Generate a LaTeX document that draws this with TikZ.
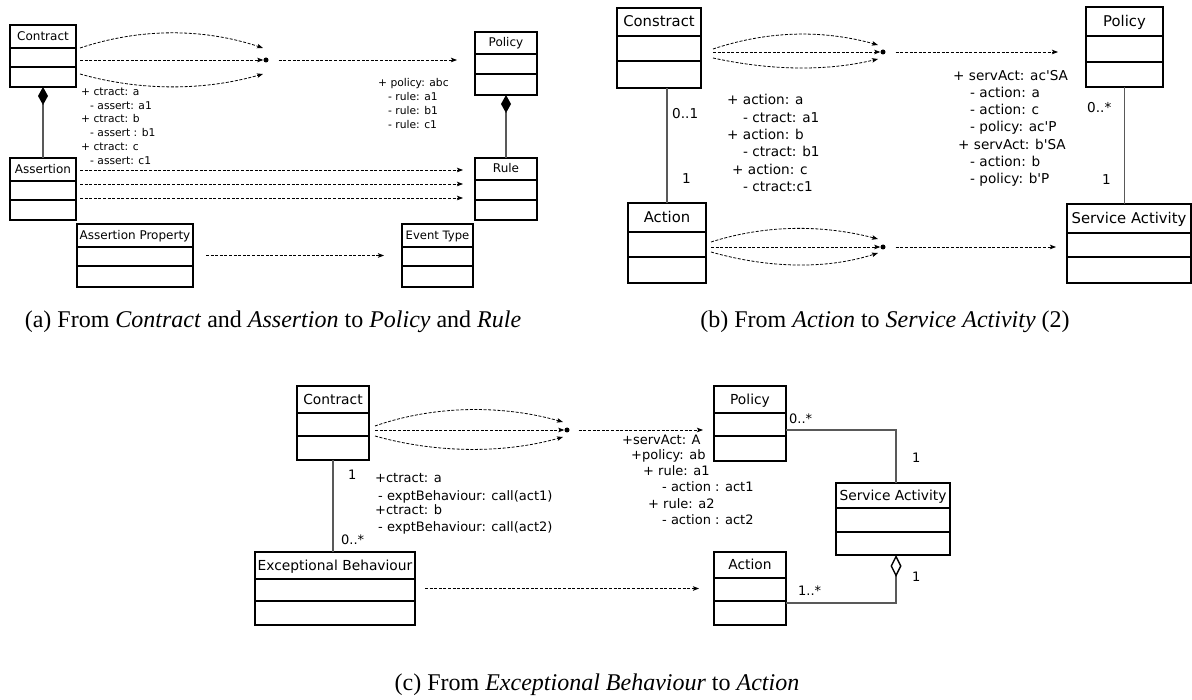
\documentclass[tikz,border=0pt]{standalone}
\usepackage{fontspec}
\setmainfont{Liberation Serif}
\newfontfamily\umlfont{DejaVu Sans}
\usetikzlibrary{arrows.meta}

\newcommand{\noteA}{\umlfont\fontsize{10.7}{13}\selectfont}
\newcommand{\noteB}{\umlfont\fontsize{13.6}{16}\selectfont}
\newcommand{\noteC}{\umlfont\fontsize{13}{15}\selectfont}
\newcommand{\umlclass}[9]{%
  \node[classbox,minimum width={#4-#2},minimum height={#5-#3}] (#1) at ({(#2+#4)/2},{(#3+#5)/2}) {};
  \draw[divider] (#2,#6) -- (#4,#6) (#2,#7) -- (#4,#7);
  \node[classtitle,font={\umlfont\fontsize{#8}{#8}\selectfont}] (#1-t) at ({(#2+#4)/2},{(#3+#6)/2+0.33*#8}) {#9};
}

\begin{document}
\begin{tikzpicture}[x=1pt,y=-1pt,
  classbox/.style={draw,line width=1.1pt,inner sep=0pt,outer sep=0pt},
  divider/.style={line width=1.8pt},
  classtitle/.style={inner sep=0pt,anchor=base},
  note/.style={inner sep=0pt,anchor=base west},
  flow/.style={line width=0.8pt,dash pattern=on 3pt off 1.6pt,-{Stealth[length=6pt,width=4.5pt,inset=1.2pt]}},
  assoc/.style={line width=1.4pt,black!65},
  junction/.style={circle,fill,inner sep=0pt,minimum size=5pt},
  caption/.style={inner sep=0pt,font=\fontsize{24}{28}\selectfont}]
\useasboundingbox (0,0) rectangle (1192,700);

\umlclass{ctrA}{10}{25}{76}{87}{48}{67}{12}{Contract}
\umlclass{asrA}{10}{158}{76}{220}{181}{200}{12}{Assertion}
\umlclass{apA}{77}{224}{193}{287}{247}{266}{12}{Assertion Property}
\umlclass{polA}{475}{32}{537}{95}{54}{74}{12}{Policy}
\umlclass{ruleA}{475}{158}{537}{220}{180}{200}{12}{Rule}
\umlclass{etA}{402}{224}{473}{287}{247}{266}{11.6}{Event Type}
\node[junction] (jA) at (266,60) {};
\draw[assoc,-{Diamond[length=18pt,width=10pt,color=black]}] (asrA.north) -- (ctrA.south);
\draw[assoc,-{Diamond[length=18pt,width=10pt,color=black]}] (ruleA.north) -- (polA.south);
\draw[flow] ([shift={(4,-8)}]ctrA.east) .. controls +(60,-20) and +(-60,-20) .. ([shift={(-3,-12)}]jA.center);
\draw[flow] ([shift={(4,4)}]ctrA.east) -- (jA.west);
\draw[flow] ([shift={(4,18)}]ctrA.east) .. controls +(60,17) and +(-60,17) .. ([shift={(-3,14)}]jA.center);
\draw[flow,shorten <=10pt,shorten >=18pt] (jA) -- (jA -| polA.west);
\foreach \dy [count=\k] in {-19,-5,9} {
  \coordinate (sA\k) at ([shift={(0,\dy)}]asrA.east);
  \draw[flow,shorten <=4pt,shorten >=12pt] (sA\k) -- (sA\k -| ruleA.west);
}
\draw[flow,shorten <=13pt,shorten >=18pt] (apA.east) -- (apA.east -| etA.west);
\foreach \x/\y/\t [count=\k] in {81/92/{+ ctract: a},90/106/{- assert: a1},81/119.5/{+ ctract: b},
  90/133/{- assert : b1},81/147/{+ ctract: c},90/161/{- assert: c1},
  378/83/{+ policy: abc},388/97/{- rule: a1},388/111/{- rule: b1},388/125/{- rule: c1}}
  \node[note,font=\noteA] (nA\k) at (\x,\y+3.2) {\t};

\umlclass{ctrB}{617}{8}{701}{88}{36}{61}{14.8}{Constract}
\umlclass{actB}{628}{203}{706}{283}{232}{257}{14.8}{Action}
\umlclass{polB}{1086}{7}{1163}{87}{36}{62}{14.8}{Policy}
\umlclass{saB}{1067}{204}{1191}{283}{233}{257}{14.8}{Service Activity}
\node[junction] (jB1) at (883,52) {};
\node[junction] (jB2) at (883,247) {};
\draw[assoc] (actB.north) -- (actB.north |- ctrB.south);
\draw[assoc] (polB.south) -- (polB.south |- saB.north);
\draw[flow] ([shift={(12,1)}]ctrB.east) .. controls +(60,-20) and +(-50,-14) .. ([shift={(-5,-7)}]jB1.center);
\draw[flow] ([shift={(12,4)}]ctrB.east) -- (jB1.west);
\draw[flow] ([shift={(12,10)}]ctrB.east) .. controls +(60,13) and +(-50,12) .. ([shift={(-5,7)}]jB1.center);
\draw[flow] ([shift={(5,-1)}]actB.east) .. controls +(60,-19) and +(-50,-13) .. ([shift={(-5,-8)}]jB2.center);
\draw[flow] ([shift={(5,4)}]actB.east) -- (jB2.west);
\draw[flow] ([shift={(5,9)}]actB.east) .. controls +(60,17) and +(-50,16) .. ([shift={(-5,6)}]jB2.center);
\draw[flow,shorten <=10pt,shorten >=28pt] (jB1) -- (jB1 -| polB.west);
\draw[flow,shorten <=10pt,shorten >=11pt] (jB2) -- (jB2 -| saB.west);
\foreach \x/\y/\t [count=\k] in {727/100/{+ action: a},743/118/{- ctract: a1},727/135/{+ action: b},
  743/152/{- ctract: b1},732/170/{+ action: c},743/187/{- ctract:c1},
  953/76/{+ servAct: ac'SA},970/93.3/{- action: a},970/110.6/{- action: c},970/127.9/{- policy: ac'P},
  958/145.2/{+ servAct: b'SA},970/162.5/{- action: b},970/179.8/{- policy: b'P},
  672/114/{0..1},682/179/{1},1087/108/{0..*},1102/180/{1}}
  \node[note,font=\noteB] (nB\k) at (\x,\y+4.1) {\t};

\umlclass{ctrC}{297}{386}{369}{460}{413}{436}{13.8}{Contract}
\umlclass{ebC}{255}{552}{415}{625}{579}{601}{13.8}{Exceptional Behaviour}
\umlclass{polC}{714}{386}{786}{461}{413}{436}{13.8}{Policy}
\umlclass{saC}{836}{483}{950}{555}{508}{532}{13.8}{Service Activity}
\umlclass{actC}{714}{552}{786}{625}{578}{601}{13.8}{Action}
\node[junction] (jC) at (567,430) {};
\draw[assoc] (ctrC.south) -- (ctrC.south |- ebC.north);
\coordinate (pC) at ([yshift=-6.5pt]polC.east);
\draw[assoc] (pC) -| ([xshift=3pt]saC.north);
\coordinate (aC) at ([yshift=-14.5pt]actC.east);
\draw[assoc,-{Diamond[open,length=22pt,width=11pt,color=black]}] (aC) -| ([xshift=3pt]saC.south);
\draw[flow] ([shift={(6,3)}]ctrC.east) .. controls +(60,-21) and +(-60,-17) .. ([shift={(-4,-8)}]jC.center);
\draw[flow] ([shift={(6,7)}]ctrC.east) -- (jC.west);
\draw[flow] ([shift={(6,13)}]ctrC.east) .. controls +(60,17) and +(-60,17) .. ([shift={(-4,7)}]jC.center);
\draw[flow,shorten <=9pt,shorten >=11pt] (jC) -- (jC -| polC.west);
\draw[flow,shorten <=10pt,shorten >=15pt] (ebC.east) -- (ebC.east -| actC.west);
\foreach \x/\y/\t [count=\k] in {375/479/{+ctract: a},378/496.7/{- exptBehaviour: call(act1)},
  375/511/{+ctract: b},378/527.7/{- exptBehaviour: call(act2)},
  622/441/{+servAct: A},631/456/{+policy: ab},643/471.7/{+ rule: a1},662/487.7/{- action : act1},
  648/505/{+ rule: a2},662/520.7/{- action : act2},
  348/476/{1},341/541/{0..*},789/420/{0..*},912/459/{1},798/592/{1..*},912/578/{1}}
  \node[note,font=\noteC] (nC\k) at (\x,\y+3.9) {\t};

\node[caption] (capA) at (273,322) {(a) From \textit{Contract} and \textit{Assertion} to \textit{Policy} and \textit{Rule}};
\node[caption] (capB) at (885,322) {(b) From \textit{Action} to \textit{Service Activity} (2)};
\node[caption] (capC) at (597,685) {(c) From \textit{Exceptional Behaviour} to \textit{Action}};
\end{tikzpicture}
\end{document}
